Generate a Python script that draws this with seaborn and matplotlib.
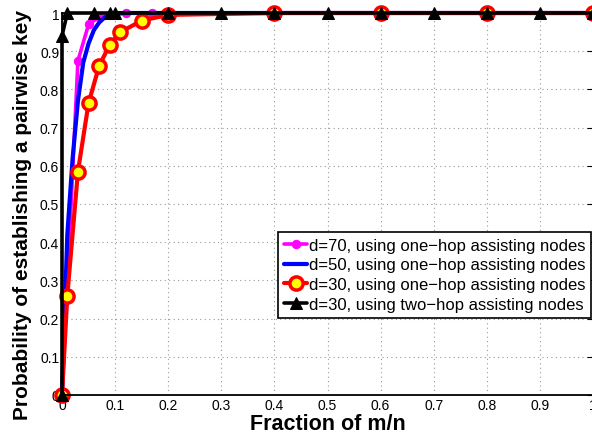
import matplotlib
matplotlib.use("Agg")
import matplotlib.pyplot as plt
import seaborn as sns
import pandas as pd

# ---- data ----
x_d70 = [0, 0.03, 0.05, 0.07, 0.12, 0.17]
y_d70 = [0, 0.875, 0.97, 0.99, 1.0, 1.0]

x_d50 = [0, 0.01, 0.02, 0.03, 0.04, 0.05, 0.06, 0.07, 0.08, 0.09, 0.10, 0.12, 1.0]
y_d50 = [0, 0.42, 0.62, 0.77, 0.87, 0.92, 0.955, 0.975, 0.988, 0.995, 0.999, 1.0, 1.0]

x_d30 = [0, 0.01, 0.03, 0.05, 0.07, 0.09, 0.11, 0.15, 0.2, 0.4, 0.6, 0.8, 1.0]
y_d30 = [0, 0.26, 0.585, 0.764, 0.862, 0.917, 0.95, 0.98, 0.995, 1.0, 1.0, 1.0, 1.0]

x_two = [0, 0, 0.01, 0.06, 0.09, 0.1, 0.2, 0.3, 0.4, 0.5, 0.6, 0.7, 0.8, 0.9, 1.0]
y_two = [0, 0.94, 1.0, 1.0, 1.0, 1.0, 1.0, 1.0, 1.0, 1.0, 1.0, 1.0, 1.0, 1.0, 1.0]

labels = ["d=70, using one\u2212hop assisting nodes",
          "d=50, using one\u2212hop assisting nodes",
          "d=30, using one\u2212hop assisting nodes",
          "d=30, using two\u2212hop assisting nodes"]
xticks = [0, 0.1, 0.2, 0.3, 0.4, 0.5, 0.6, 0.7, 0.8, 0.9, 1]
yticks = [0, 0.1, 0.2, 0.3, 0.4, 0.5, 0.6, 0.7, 0.8, 0.9, 1]
xlabel = "Fraction of m/n"
ylabel = "Probability of establishing a pairwise key"

sns.set_style("white")
plt.rcParams['font.family'] = ['Liberation Sans', 'DejaVu Sans']
plt.rcParams['text.color'] = 'black'
plt.rcParams['axes.labelcolor'] = 'black'
plt.rcParams['xtick.color'] = 'black'
plt.rcParams['ytick.color'] = 'black'

fig = plt.figure(figsize=(5.92, 4.35), dpi=100)
W, H = 592, 435
ax = fig.add_axes([62 / W, 1 - 396 / H, (593 - 62) / W, (396 - 14) / H])

def draw(xs, ys, label, **kw):
    df = pd.DataFrame({"x": xs, "y": ys})
    sns.lineplot(data=df, x="x", y="y", ax=ax, label=label, sort=False,
                 estimator=None, clip_on=False, **kw)

draw(x_d70, y_d70, labels[0], color="#ff00ff", linewidth=2.6,
     marker="o", markersize=6, markeredgecolor="#ff00ff", markerfacecolor="#ff00ff")
draw(x_d50, y_d50, labels[1], color="#0000ff", linewidth=3.0, marker=None)
draw(x_d30, y_d30, labels[2], color="#ff0000", linewidth=3.0,
     marker="o", markersize=9.5, markeredgewidth=2.5, markeredgecolor="#ff0000",
     markerfacecolor="#ffff00")
draw(x_two, y_two, labels[3], color="black", linewidth=2.6,
     marker="^", markersize=8, markeredgecolor="black", markerfacecolor="black")

ax.set_xlim(0, 1)
ax.set_ylim(0, 1)
ax.set_xticks(xticks)
ax.set_xticklabels([str(t) for t in xticks])
ax.set_yticks(yticks)
ax.set_yticklabels([str(t) for t in yticks])
ax.grid(True, linestyle=(0, (1, 3)), color="#999999", linewidth=0.8)
ax.tick_params(direction="in", length=4, width=0.8, labelsize=10, pad=2,
               top=True, right=True, colors="black")
for s in ax.spines.values():
    s.set_color("black")
    s.set_linewidth(1.3)

ax.set_xlabel(xlabel, fontsize=15.5, fontweight="bold", labelpad=1)
ax.set_ylabel(ylabel, fontsize=15, fontweight="bold")
ax.yaxis.set_label_coords(-0.057, 0.474)

leg = ax.legend(loc="upper left", bbox_to_anchor=(0.407, 0.427), fontsize=12,
                frameon=True, fancybox=False, edgecolor="black", framealpha=1,
                borderpad=0.35, labelspacing=0.28, handlelength=1.4,
                handletextpad=0.1, borderaxespad=0)
leg.get_frame().set_linewidth(1.2)

fig.savefig("out.png", dpi=100)
